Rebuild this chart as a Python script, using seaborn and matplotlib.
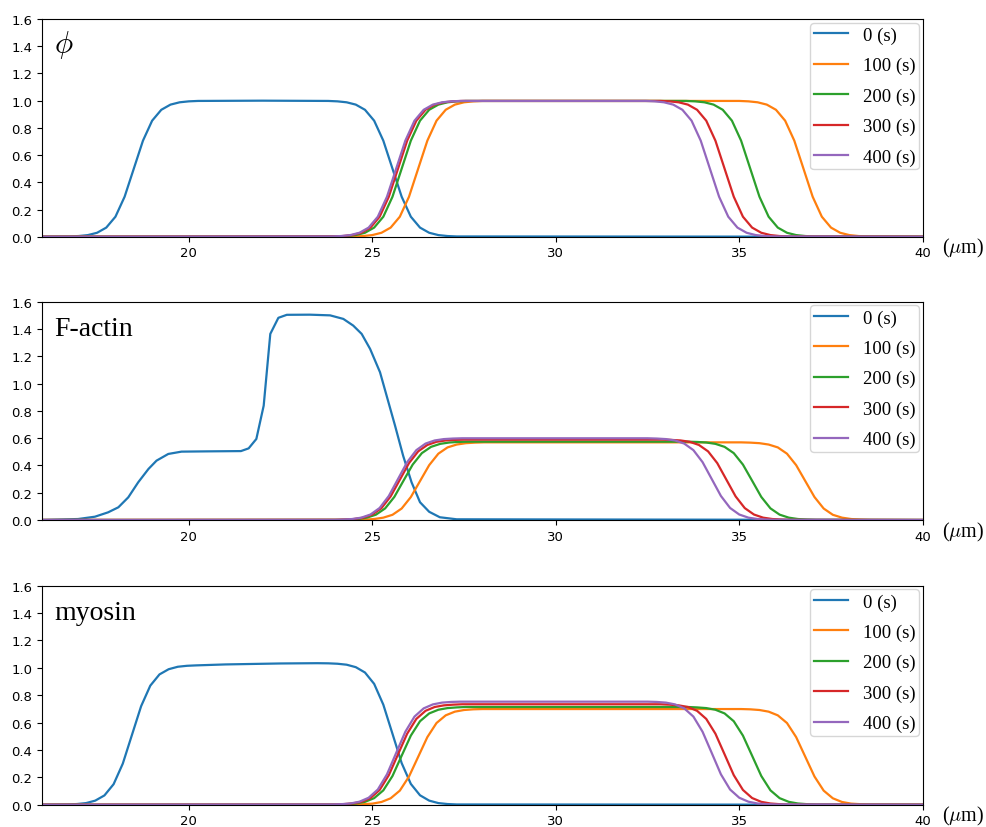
import matplotlib
matplotlib.use("Agg")
import matplotlib.pyplot as plt
import seaborn as sns
import pandas as pd

# ---------------- data ----------------
TIMES = ["0 (s)", "100 (s)", "200 (s)", "300 (s)", "400 (s)"]
COLORS = ["#1f77b4", "#ff7f0e", "#2ca02c", "#d62728", "#9467bd"]
PANEL_LABELS = [r"$\phi$", "F-actin", "myosin"]
X_TICKS = [20, 25, 30, 35, 40]
Y_TICKS = [0.0, 0.2, 0.4, 0.6, 0.8, 1.0, 1.2, 1.4, 1.6]

# phi
X_PHI_0 = [16.0, 16.75, 17.00, 17.25, 17.50, 17.75, 18.00, 18.25, 18.50, 18.75, 19.00, 19.25, 19.50, 19.75, 20.00, 20.25, 22.00,
           23.80, 24.05, 24.30, 24.55, 24.80, 25.05, 25.30, 25.55, 25.80, 26.05, 26.30, 26.55, 26.80, 27.05, 27.30, 40.0]
Y_PHI_0 = [0.0, 0.002, 0.005, 0.012, 0.029, 0.067, 0.147, 0.294, 0.500, 0.706, 0.853, 0.933, 0.971, 0.988, 0.995, 0.998, 1.000,
           0.998, 0.995, 0.988, 0.971, 0.933, 0.853, 0.706, 0.500, 0.294, 0.147, 0.067, 0.029, 0.012, 0.005, 0.002, 0.0]
X_PHI_100 = [16.0, 24.50, 24.75, 25.00, 25.25, 25.50, 25.75, 26.00, 26.25, 26.50, 26.75, 27.00, 27.25, 27.50, 27.75, 28.00,
             35.00, 35.25, 35.50, 35.75, 36.00, 36.25, 36.50, 36.75, 37.00, 37.25, 37.50, 37.75, 38.00, 38.25, 38.50, 40.0]
Y_PHI_100 = [0.0, 0.002, 0.005, 0.012, 0.029, 0.067, 0.147, 0.294, 0.500, 0.706, 0.853, 0.933, 0.971, 0.988, 0.995, 0.998,
             0.998, 0.995, 0.988, 0.971, 0.933, 0.853, 0.706, 0.500, 0.294, 0.147, 0.067, 0.029, 0.012, 0.005, 0.002, 0.0]
X_PHI_200 = [16.0, 24.05, 24.30, 24.55, 24.80, 25.05, 25.30, 25.55, 25.80, 26.05, 26.30, 26.55, 26.80, 27.05, 27.30, 27.55,
             33.55, 33.80, 34.05, 34.30, 34.55, 34.80, 35.05, 35.30, 35.55, 35.80, 36.05, 36.30, 36.55, 36.80, 37.05, 40.0]
Y_PHI_200 = [0.0, 0.002, 0.005, 0.012, 0.029, 0.067, 0.147, 0.294, 0.500, 0.706, 0.853, 0.933, 0.971, 0.988, 0.995, 0.998,
             0.998, 0.995, 0.988, 0.971, 0.933, 0.853, 0.706, 0.500, 0.294, 0.147, 0.067, 0.029, 0.012, 0.005, 0.002, 0.0]
X_PHI_300 = [16.0, 23.95, 24.20, 24.45, 24.70, 24.95, 25.20, 25.45, 25.70, 25.95, 26.20, 26.45, 26.70, 26.95, 27.20, 27.45,
             32.85, 33.10, 33.35, 33.60, 33.85, 34.10, 34.35, 34.60, 34.85, 35.10, 35.35, 35.60, 35.85, 36.10, 36.35, 40.0]
Y_PHI_300 = [0.0, 0.002, 0.005, 0.012, 0.029, 0.067, 0.147, 0.294, 0.500, 0.706, 0.853, 0.933, 0.971, 0.988, 0.995, 0.998,
             0.998, 0.995, 0.988, 0.971, 0.933, 0.853, 0.706, 0.500, 0.294, 0.147, 0.067, 0.029, 0.012, 0.005, 0.002, 0.0]
X_PHI_400 = [16.0, 23.90, 24.15, 24.40, 24.65, 24.90, 25.15, 25.40, 25.65, 25.90, 26.15, 26.40, 26.65, 26.90, 27.15, 27.40,
             32.45, 32.70, 32.95, 33.20, 33.45, 33.70, 33.95, 34.20, 34.45, 34.70, 34.95, 35.20, 35.45, 35.70, 35.95, 40.0]
Y_PHI_400 = [0.0, 0.002, 0.005, 0.012, 0.029, 0.067, 0.147, 0.294, 0.500, 0.706, 0.853, 0.933, 0.971, 0.988, 0.995, 0.998,
             0.998, 0.995, 0.988, 0.971, 0.933, 0.853, 0.706, 0.500, 0.294, 0.147, 0.067, 0.029, 0.012, 0.005, 0.002, 0.0]

# F-actin
X_ACT_0 = [16.0, 16.98, 17.44, 17.80, 18.08, 18.35, 18.62, 18.90, 19.12, 19.44, 19.80, 20.50, 21.42, 21.63, 21.84, 22.04,
           22.22, 22.44, 22.67, 23.30, 23.85, 24.21, 24.48, 24.71, 24.94, 25.21, 25.39, 25.62, 25.84, 26.07, 26.30, 26.55,
           26.84, 27.30, 40.0]
Y_ACT_0 = [0.0, 0.007, 0.024, 0.056, 0.093, 0.166, 0.276, 0.374, 0.435, 0.484, 0.501, 0.503, 0.505, 0.525, 0.594, 0.838,
           1.364, 1.482, 1.504, 1.505, 1.500, 1.474, 1.425, 1.364, 1.254, 1.083, 0.911, 0.691, 0.471, 0.276, 0.130, 0.060,
           0.020, 0.005, 0.0]
X_ACT_100 = [16.0, 24.55, 24.80, 25.05, 25.30, 25.55, 25.80, 26.05, 26.30, 26.55, 26.80, 27.05, 27.30, 27.55, 27.80, 28.05,
             35.05, 35.30, 35.55, 35.80, 36.05, 36.30, 36.55, 36.80, 37.05, 37.30, 37.55, 37.80, 38.05, 38.30, 38.55, 40.0]
Y_ACT_100 = [0.0, 0.001, 0.003, 0.007, 0.017, 0.038, 0.084, 0.168, 0.285, 0.402, 0.486, 0.532, 0.553, 0.563, 0.567, 0.569,
             0.569, 0.567, 0.563, 0.553, 0.532, 0.486, 0.402, 0.285, 0.168, 0.084, 0.038, 0.017, 0.007, 0.003, 0.001, 0.0]
X_ACT_200 = [16.0, 24.10, 24.35, 24.60, 24.85, 25.10, 25.35, 25.60, 25.85, 26.10, 26.35, 26.60, 26.85, 27.10, 27.35, 27.60,
             33.60, 33.85, 34.10, 34.35, 34.60, 34.85, 35.10, 35.35, 35.60, 35.85, 36.10, 36.35, 36.60, 36.85, 37.10, 40.0]
Y_ACT_200 = [0.0, 0.001, 0.003, 0.007, 0.017, 0.039, 0.085, 0.169, 0.288, 0.406, 0.490, 0.536, 0.558, 0.568, 0.572, 0.574,
             0.574, 0.572, 0.568, 0.558, 0.536, 0.490, 0.406, 0.288, 0.169, 0.085, 0.039, 0.017, 0.007, 0.003, 0.001, 0.0]
X_ACT_300 = [16.0, 24.00, 24.25, 24.50, 24.75, 25.00, 25.25, 25.50, 25.75, 26.00, 26.25, 26.50, 26.75, 27.00, 27.25, 27.50,
             32.90, 33.15, 33.40, 33.65, 33.90, 34.15, 34.40, 34.65, 34.90, 35.15, 35.40, 35.65, 35.90, 36.15, 36.40, 40.0]
Y_ACT_300 = [0.0, 0.001, 0.003, 0.007, 0.017, 0.040, 0.087, 0.173, 0.295, 0.417, 0.503, 0.550, 0.573, 0.583, 0.587, 0.589,
             0.589, 0.587, 0.583, 0.573, 0.550, 0.503, 0.417, 0.295, 0.173, 0.087, 0.040, 0.017, 0.007, 0.003, 0.001, 0.0]
X_ACT_400 = [16.0, 23.95, 24.20, 24.45, 24.70, 24.95, 25.20, 25.45, 25.70, 25.95, 26.20, 26.45, 26.70, 26.95, 27.20, 27.45,
             32.50, 32.75, 33.00, 33.25, 33.50, 33.75, 34.00, 34.25, 34.50, 34.75, 35.00, 35.25, 35.50, 35.75, 36.00, 40.0]
Y_ACT_400 = [0.0, 0.001, 0.003, 0.007, 0.017, 0.040, 0.088, 0.176, 0.300, 0.424, 0.512, 0.560, 0.583, 0.593, 0.597, 0.599,
             0.599, 0.597, 0.593, 0.583, 0.560, 0.512, 0.424, 0.300, 0.176, 0.088, 0.040, 0.017, 0.007, 0.003, 0.001, 0.0]

# myosin
X_MYO_0 = [16.0, 16.70, 16.95, 17.20, 17.45, 17.70, 17.95, 18.20, 18.45, 18.70, 18.95, 19.20, 19.45, 19.70, 19.95, 20.20,
           21.00, 22.50, 23.50, 23.80, 24.05, 24.30, 24.55, 24.80, 25.05, 25.30, 25.55, 25.80, 26.05, 26.30, 26.55, 26.80,
           27.05, 27.30, 40.0]
Y_MYO_0 = [0.0, 0.002, 0.005, 0.012, 0.030, 0.068, 0.150, 0.300, 0.510, 0.720, 0.870, 0.952, 0.990, 1.008, 1.015, 1.018,
           1.025, 1.032, 1.034, 1.033, 1.030, 1.023, 1.005, 0.966, 0.883, 0.731, 0.518, 0.304, 0.152, 0.069, 0.030, 0.012,
           0.005, 0.002, 0.0]
X_MYO_100 = [16.0, 24.50, 24.75, 25.00, 25.25, 25.50, 25.75, 26.00, 26.25, 26.50, 26.75, 27.00, 27.25, 27.50, 27.75, 28.00,
             35.05, 35.30, 35.55, 35.80, 36.05, 36.30, 36.55, 36.80, 37.05, 37.30, 37.55, 37.80, 38.05, 38.30, 38.55, 40.0]
Y_MYO_100 = [0.0, 0.001, 0.004, 0.008, 0.020, 0.047, 0.103, 0.206, 0.350, 0.494, 0.597, 0.653, 0.680, 0.692, 0.697, 0.699,
             0.699, 0.697, 0.692, 0.680, 0.653, 0.597, 0.494, 0.350, 0.206, 0.103, 0.047, 0.020, 0.008, 0.004, 0.001, 0.0]
X_MYO_200 = [16.0, 24.05, 24.30, 24.55, 24.80, 25.05, 25.30, 25.55, 25.80, 26.05, 26.30, 26.55, 26.80, 27.05, 27.30, 27.55,
             33.60, 33.85, 34.10, 34.35, 34.60, 34.85, 35.10, 35.35, 35.60, 35.85, 36.10, 36.35, 36.60, 36.85, 37.10, 40.0]
Y_MYO_200 = [0.0, 0.001, 0.004, 0.009, 0.021, 0.048, 0.105, 0.210, 0.358, 0.505, 0.610, 0.667, 0.694, 0.706, 0.711, 0.714,
             0.714, 0.711, 0.706, 0.694, 0.667, 0.610, 0.505, 0.358, 0.210, 0.105, 0.048, 0.021, 0.009, 0.004, 0.001, 0.0]
X_MYO_300 = [16.0, 23.95, 24.20, 24.45, 24.70, 24.95, 25.20, 25.45, 25.70, 25.95, 26.20, 26.45, 26.70, 26.95, 27.20, 27.45,
             32.85, 33.10, 33.35, 33.60, 33.85, 34.10, 34.35, 34.60, 34.85, 35.10, 35.35, 35.60, 35.85, 36.10, 36.35, 40.0]
Y_MYO_300 = [0.0, 0.001, 0.004, 0.009, 0.021, 0.049, 0.108, 0.216, 0.368, 0.519, 0.627, 0.686, 0.714, 0.726, 0.731, 0.734,
             0.734, 0.731, 0.726, 0.714, 0.686, 0.627, 0.519, 0.368, 0.216, 0.108, 0.049, 0.021, 0.009, 0.004, 0.001, 0.0]
X_MYO_400 = [16.0, 23.90, 24.15, 24.40, 24.65, 24.90, 25.15, 25.40, 25.65, 25.90, 26.15, 26.40, 26.65, 26.90, 27.15, 27.40,
             32.50, 32.75, 33.00, 33.25, 33.50, 33.75, 34.00, 34.25, 34.50, 34.75, 35.00, 35.25, 35.50, 35.75, 36.00, 40.0]
Y_MYO_400 = [0.0, 0.002, 0.004, 0.009, 0.022, 0.051, 0.111, 0.222, 0.378, 0.533, 0.644, 0.704, 0.733, 0.746, 0.751, 0.753,
             0.753, 0.751, 0.746, 0.733, 0.704, 0.644, 0.533, 0.378, 0.222, 0.111, 0.051, 0.022, 0.009, 0.004, 0.002, 0.0]

PANELS = [
    [(X_PHI_0, Y_PHI_0), (X_PHI_100, Y_PHI_100), (X_PHI_200, Y_PHI_200), (X_PHI_300, Y_PHI_300), (X_PHI_400, Y_PHI_400)],
    [(X_ACT_0, Y_ACT_0), (X_ACT_100, Y_ACT_100), (X_ACT_200, Y_ACT_200), (X_ACT_300, Y_ACT_300), (X_ACT_400, Y_ACT_400)],
    [(X_MYO_0, Y_MYO_0), (X_MYO_100, Y_MYO_100), (X_MYO_200, Y_MYO_200), (X_MYO_300, Y_MYO_300), (X_MYO_400, Y_MYO_400)],
]

# ---------------- figure ----------------
plt.rcParams["mathtext.fontset"] = "cm"
plt.rcParams["font.family"] = ["DejaVu Sans"]
SERIF = ["Liberation Serif", "DejaVu Serif"]

fig = plt.figure(figsize=(9.87, 8.28), dpi=100)
RECTS = [(0.0426, 0.7129, 0.8923, 0.2629),
         (0.0426, 0.3708, 0.8923, 0.2636),
         (0.0426, 0.0269, 0.8923, 0.2645)]

for i, (rect, series, label) in enumerate(zip(RECTS, PANELS, PANEL_LABELS)):
    ax = fig.add_axes(rect)
    frames = []
    for t, (xs, ys) in zip(TIMES, series):
        frames.append(pd.DataFrame({"x": xs, "y": ys, "time": t}))
    df = pd.concat(frames, ignore_index=True)
    sns.lineplot(data=df, x="x", y="y", hue="time", hue_order=TIMES, palette=COLORS,
                 estimator=None, sort=False, linewidth=1.6, ax=ax)
    ax.set_xlim(16, 40)
    ax.set_ylim(0, 1.6)
    ax.set_xticks(X_TICKS)
    ax.set_yticks(Y_TICKS)
    ax.set_yticklabels([f"{v:.1f}" for v in Y_TICKS])
    ax.tick_params(labelsize=9.5)
    ax.set_xlabel("")
    ax.set_ylabel("")

    old = ax.get_legend()
    handles = old.legend_handles
    labels = [t.get_text() for t in old.get_texts()]
    old.remove()
    ax.legend(handles, labels, loc="upper right", borderaxespad=0.2, borderpad=0.2,
              handlelength=1.8, labelspacing=0.7, handletextpad=0.8,
              prop={"family": SERIF, "size": 13.5})

    ax.text(0.0136, 0.847, label, transform=ax.transAxes, ha="left", va="baseline",
            fontsize=22 if i == 0 else 20, family=SERIF)
    ax.text(1.0216, -0.0735, r"($\mu$m)", transform=ax.transAxes, ha="left", va="baseline",
            fontsize=14.5, family=SERIF, clip_on=False)

fig.savefig("out.png", dpi=100)
